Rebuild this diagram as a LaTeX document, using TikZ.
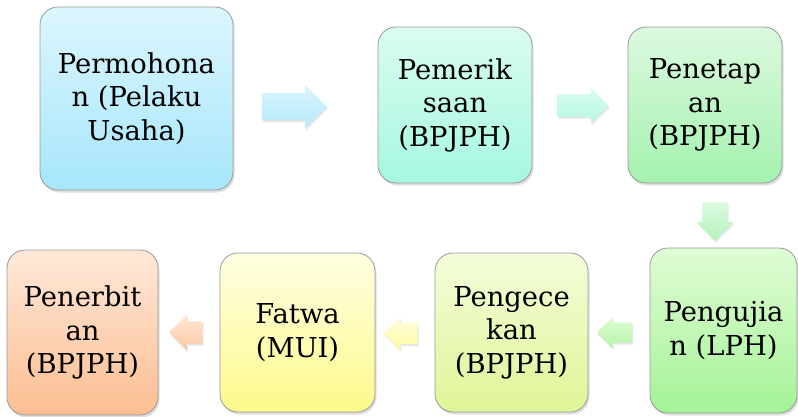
\documentclass[tikz,border=0pt]{standalone}
\usepackage{fontspec}
\setmainfont{DejaVu Serif}
\usetikzlibrary{shapes.arrows,shadows}

\definecolor{blueT}{HTML}{DCF6FD}
\definecolor{blueB}{HTML}{A6E6FB}
\definecolor{aquaT}{HTML}{DAFCF1}
\definecolor{aquaB}{HTML}{A6F7E0}
\definecolor{mintT}{HTML}{DCF9DF}
\definecolor{mintB}{HTML}{A4F2AE}
\definecolor{greenT}{HTML}{E0FCD4}
\definecolor{greenB}{HTML}{A4F397}
\definecolor{limeT}{HTML}{F4FDDA}
\definecolor{limeB}{HTML}{DFF597}
\definecolor{yellowT}{HTML}{FFFEE2}
\definecolor{yellowB}{HTML}{FDFA8C}
\definecolor{peachT}{HTML}{FFE8D8}
\definecolor{peachB}{HTML}{FBBE92}

\begin{document}
\begin{tikzpicture}[x=1pt,y=1pt,
  stepbox/.style={draw=gray!80,line width=0.8pt,rounded corners=18pt,
    align=center,inner sep=0pt,font=\fontsize{27.4}{33.5}\selectfont,
    drop shadow={opacity=0.25,shadow xshift=1.5pt,shadow yshift=-2.5pt}},
  blockarrow/.style={single arrow,draw=none,
    drop shadow={opacity=0.2,shadow xshift=1pt,shadow yshift=-2pt}}]
\useasboundingbox (0,0) rectangle (798,416);

\node[stepbox,minimum width=193,minimum height=183,top color=blueT,bottom color=blueB]
  (permohonan) at (136.5,317.5) {Permohona\\n (Pelaku\\Usaha)};
\node[stepbox,minimum width=154,minimum height=156,top color=aquaT,bottom color=aquaB]
  (pemeriksaan) at (455,311) {Pemerik\\saan\\(BPJPH)};
\node[stepbox,minimum width=154,minimum height=156,top color=mintT,bottom color=mintB]
  (penetapan) at (705,311) {Penetap\\an\\(BPJPH)};
\node[stepbox,minimum width=147,minimum height=165,top color=greenT,bottom color=greenB]
  (pengujian) at (723.5,85.5) {Pengujia\\n (LPH)};
\node[stepbox,minimum width=153,minimum height=159,top color=limeT,bottom color=limeB]
  (pengecekan) at (511.5,83.5) {Pengece\\kan\\(BPJPH)};
\node[stepbox,minimum width=155,minimum height=159,top color=yellowT,bottom color=yellowB]
  (fatwa) at (297.5,83.5) {Fatwa\\(MUI)};
\node[stepbox,minimum width=151,minimum height=165,top color=peachT,bottom color=peachB]
  (penerbitan) at (82.5,83.5) {Penerbit\\an\\(BPJPH)};

\node[blockarrow,inner sep=13.5,minimum height=65,minimum width=43,single arrow head extend=8,
  top color=blueT,bottom color=blueB!85!white] (arrA) at (287.5,309.5) {};
\node[blockarrow,inner sep=11,minimum height=51,minimum width=35,single arrow head extend=6.5,
  top color=aquaT,bottom color=aquaB!85!white] (arrB) at (577.5,310.5) {};
\node[blockarrow,inner sep=12.5,minimum height=36,minimum width=36,single arrow head extend=5.5,
  shape border rotate=270,top color=mintT,bottom color=mintB!85!white] (arrC) at (715,201) {};
\node[blockarrow,inner sep=10,minimum height=35,minimum width=31,single arrow head extend=5.5,
  shape border rotate=180,top color=greenT,bottom color=greenB!85!white] (arrD) at (619.5,83.5) {};
\node[blockarrow,inner sep=10.5,minimum height=34,minimum width=33,single arrow head extend=6,
  shape border rotate=180,top color=yellowT,bottom color=yellowB!85!white] (arrE) at (406,82.5) {};
\node[blockarrow,inner sep=11,minimum height=33,minimum width=35,single arrow head extend=6.5,
  shape border rotate=180,top color=peachT,bottom color=peachB!85!white] (arrF) at (191.5,83.5) {};
\end{tikzpicture}
\end{document}
